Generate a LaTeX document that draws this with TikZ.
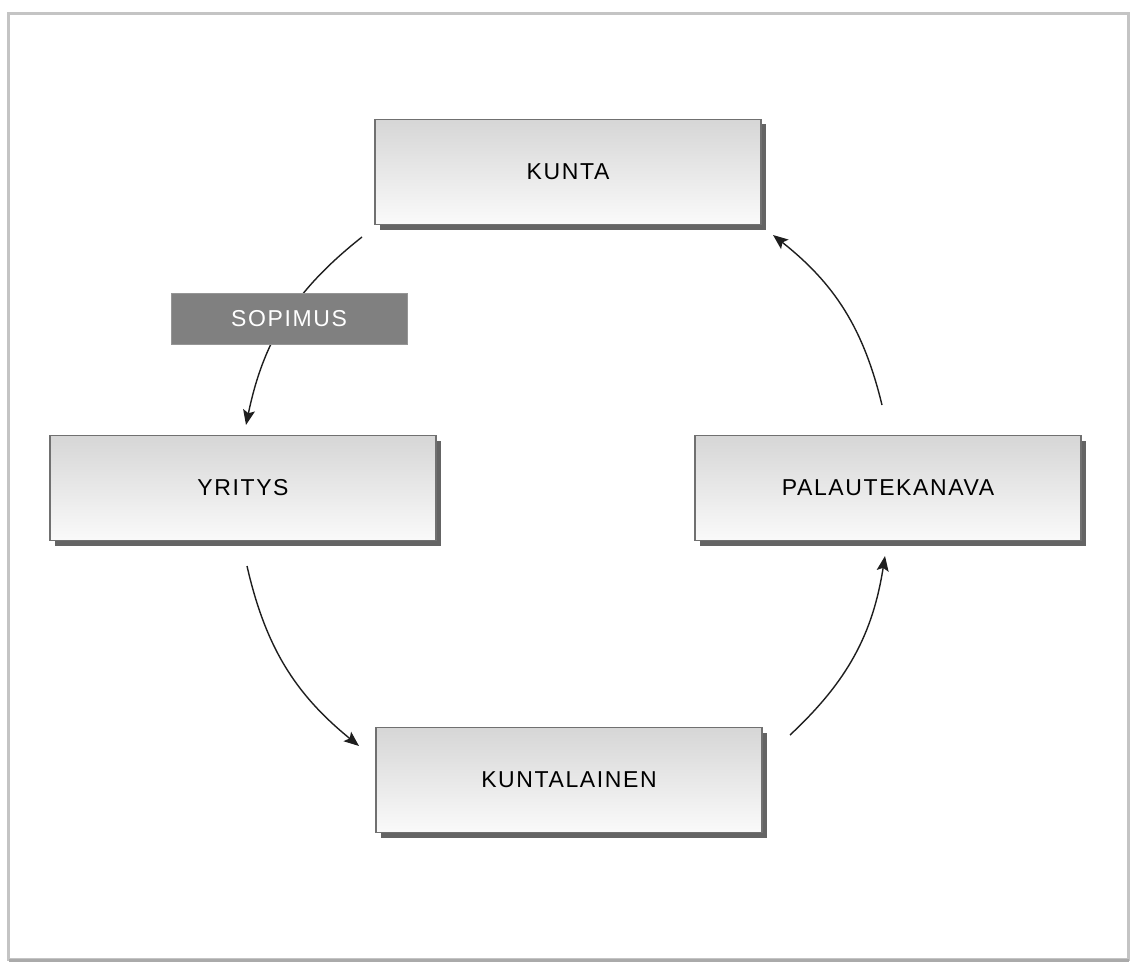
\documentclass[tikz,border=0pt]{standalone}
\usepackage{fontspec}
\setmainfont{Liberation Sans}[LetterSpace=7]
\usetikzlibrary{arrows.meta,shadows}
\definecolor{boxborder}{RGB}{112,112,112}
\definecolor{boxtop}{RGB}{214,214,214}
\definecolor{boxbottom}{RGB}{250,250,250}
\definecolor{boxshadow}{RGB}{100,100,100}
\definecolor{labelfill}{RGB}{128,128,128}
\definecolor{labelborder}{RGB}{150,150,150}
\definecolor{arrowcol}{RGB}{30,30,30}
\definecolor{framecol}{RGB}{196,196,196}
\definecolor{framebot}{RGB}{170,170,170}
\begin{document}
\begin{tikzpicture}[x=1pt,y=1pt,
  boxnode/.style={draw=boxborder, line width=1.2pt, minimum width=386pt, minimum height=105pt,
    top color=boxtop, bottom color=boxbottom, inner sep=0pt,
    font=\fontsize{23}{27}\selectfont,
    drop shadow={shadow xshift=5pt, shadow yshift=-5pt, fill=boxshadow, opacity=1}},
  labelbox/.style={fill=labelfill, draw=labelborder, line width=0.8pt, text=white,
    minimum width=236pt, minimum height=51pt, inner sep=0pt, font=\fontsize{23}{27}\selectfont},
  flow/.style={line width=1.4pt, draw=arrowcol, -{Stealth[length=15pt,width=12pt,inset=3pt]}}
]
\useasboundingbox (0,0) rectangle (1130,-963);
% outer frame
\draw[line width=3pt, draw=framecol] (8.5,-13.5) rectangle (1128.5,-959.5);
\draw[line width=3pt, draw=framebot] (8.5,-960) -- (1128.5,-960);

% boxes
\node[boxnode] (kunta) at (568,-172) {KUNTA};
\node[boxnode] (yritys) at (243,-488) {YRITYS};
\node[boxnode] (palaute) at (888,-488) {PALAUTEKANAVA};
\node[boxnode] (kuntalainen) at (569,-780) {KUNTALAINEN};

% connector end points
\coordinate (a1s) at (362,-237);
\coordinate (a1e) at (246,-425);
\coordinate (a2s) at (247,-566);
\coordinate (a2e) at (359,-746);
\coordinate (a3s) at (790,-735);
\coordinate (a3e) at (885,-556);
\coordinate (a4s) at (882,-405);
\coordinate (a4e) at (773,-235);

\draw[flow] (a1s) to[bend right=20] (a1e);
\draw[flow] (a2s) to[bend right=19] (a2e);
\draw[flow] (a3s) to[bend right=19] (a3e);
\draw[flow] (a4s) to[bend right=19] (a4e);

\node[labelbox] (sopimus) at (289,-319) {SOPIMUS};
\end{tikzpicture}
\end{document}
